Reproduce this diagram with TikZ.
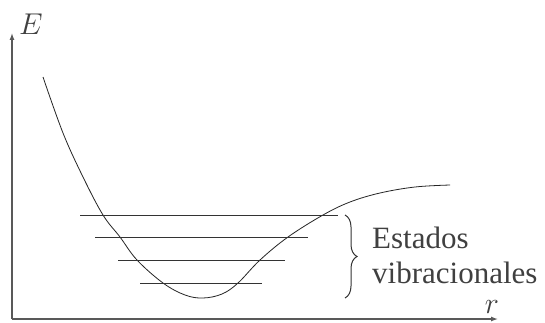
\documentclass[tikz,border=0pt]{standalone}
\usepackage{fontspec}
\setmainfont{Liberation Serif}
\usetikzlibrary{decorations.pathreplacing,arrows.meta}
\begin{document}
\begin{tikzpicture}[x=1pt,y=1pt,
  axis/.style={draw=black!65, line width=1.3pt, -{Latex[length=7pt,width=5pt]}},
  level/.style={draw=black!80, line width=1pt},
  curve/.style={draw=black!85, line width=0.8pt},
  lbl/.style={font=\fontsize{31}{35}\selectfont, text=black!75, inner sep=0pt, anchor=base west},
  mlbl/.style={font=\fontsize{20}{24}\selectfont, scale=1.45, text=black!75, inner sep=0pt}]
\useasboundingbox (0,0) rectangle (545,322);
\fill[white] (0,0) rectangle (545,322);
% axes
\coordinate (O) at (12,3);
\coordinate (Ytop) at (12,289);
\coordinate (Xend) at (498,3);
\draw[axis] (O) -- (Ytop);
\draw[axis] (O) -- (Xend);
\node[mlbl] (E) at (31,298) {$E$};
\node[mlbl] (r) at (492,15) {$r$};
% potential curve
\draw[curve] plot[smooth, tension=0.6] coordinates {
 (43,245) (63,189) (83,145) (103,107) (120,85) (137,62) (163,39) (185,27)
 (203,24) (222,28) (238,39) (260,62) (288,85) (323,107) (350,120) (380,129)
 (415,135) (450,137)};
% vibrational levels
\coordinate (l1a) at (80,107);  \coordinate (l1b) at (338,107);
\coordinate (l2a) at (95,85);   \coordinate (l2b) at (308,85);
\coordinate (l3a) at (118,62);  \coordinate (l3b) at (285,62);
\coordinate (l4a) at (140,39);  \coordinate (l4b) at (262,39);
\draw[level] (l1a) -- (l1b);
\draw[level] (l2a) -- (l2b);
\draw[level] (l3a) -- (l3b);
\draw[level] (l4a) -- (l4b);
% brace
\coordinate (bt) at (345,107);
\coordinate (bb) at (345,24);
\draw[draw=black!80, line width=1pt, decorate, decoration={brace, amplitude=12pt}] (bt) -- (bb);
\node[lbl] (t1) at (372,74) {Estados};
\node[lbl] (t2) at (372,39) {vibracionales};
\end{tikzpicture}
\end{document}
